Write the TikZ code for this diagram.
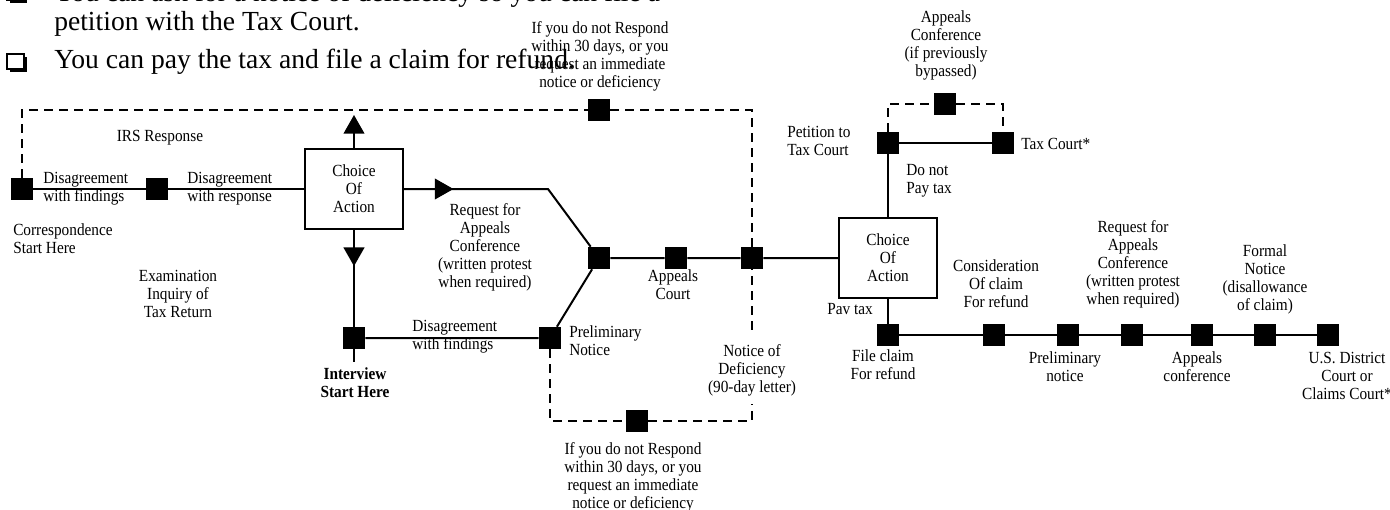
\documentclass[tikz,border=0pt]{standalone}
\usepackage{fontspec}
\setmainfont{Liberation Serif}
\newfontfamily\lblfont[FakeStretch=0.9]{Liberation Serif}
\usetikzlibrary{%
  arrows.meta,%
  decorations.markings%
}
\tikzset{>={Triangle[length=14pt,width=15.5pt]},
  sq/.style={fill=black,minimum size=16.5pt,inner sep=0pt},
  lbl/.style={font={\lblfont\fontsize{12.75}{13.5}\selectfont},inner sep=0pt,align=center},
  lblL/.style={lbl,align=left,anchor=west},
  choice/.style={lbl,draw,line width=1.7pt,minimum width=73.5pt,minimum height=60pt},
  bigtxt/.style={font={\fontsize{20.7}{23.25}\selectfont},inner sep=0pt,anchor=base west},
  flow/.style={line width=1.5pt},
  dashline/.style={line width=1.5pt,dash pattern=on 6.75pt off 4.5pt},
  midarrow/.style={postaction={decorate,decoration={markings,
      mark=at position #1 with {\arrow{>}}}}}}

\begin{document}
\begin{tikzpicture}[x=0.75pt,y=-0.75pt]
  \useasboundingbox (0,0) rectangle (1390,510);
  % bullet list at the top
  \foreach \by in {-15,54}{
    \fill (10,\by+3) rectangle (27,\by+18);
    \filldraw[fill=white,draw=black,line width=0.8pt] (7,\by) rectangle (24,\by+15);
  }
  \node[bigtxt] (ask) at (54,2) {You can ask for a notice of deficiency so you can file a};
  \node[bigtxt] (pet2) at (54,31) {petition with the Tax Court.};
  \node[bigtxt] (pay) at (54,69) {You can pay the tax and file a claim for refund.};

  % boxes and squares
  \node[choice] (ch1) at (354,189) {Choice\\Of\\Action};
  \node[choice] (ch2) at (888,258) {Choice\\Of\\Action};
  \node[sq] (cor) at (22,189) {};
  \node[sq] (dis1) at (157,189) {};
  \node[sq] (int) at (354,338) {};
  \node[sq] (pre) at (550,338) {};
  \node[sq] (apl) at (599,258) {};
  \node[sq] (acrt) at (676,258) {};
  \node[sq] (nod) at (752,258) {};
  \node[sq] (dsqT) at (599,110) {};
  \node[sq] (dsqB) at (637,421) {};
  \node[sq] (pet) at (888,143) {};
  \node[sq] (txc) at (1003,143) {};
  \node[sq] (dsqA) at (945,104) {};
  \node[sq] (fcl) at (888,335) {};
  \node[sq] (r1) at (994,335) {};
  \node[sq] (r2) at (1068,335) {};
  \node[sq] (r3) at (1132,335) {};
  \node[sq] (r4) at (1202,335) {};
  \node[sq] (r5) at (1265,335) {};
  \node[sq] (r6) at (1328,335) {};
  \coordinate (upT) at (354,115);
  \coordinate (bend) at (548,189);
  \coordinate (intTail) at (354,362);

  % dashed routes
  \draw[dashline] (cor) |- (dsqT.west);
  \draw[dashline] (dsqT.east) -| (nod.north);
  \draw[dashline] (pre) |- (dsqB.west);
  \draw[dashline] (dsqB.east) -| (nod.south);
  \draw[dashline] (pet) |- (dsqA.west);
  \draw[dashline] (dsqA.east) -| (txc);

  % solid routes
  \draw[flow] (cor) -- (dis1) -- (ch1);
  \draw[flow,->] (ch1) -- (upT);
  \draw[flow,midarrow=27pt] (ch1) -- (int);
  \draw[flow] (int) -- (intTail);
  \draw[flow,midarrow=37pt] (ch1) -- (bend) -- (apl);
  \draw[flow] (int) -- (pre) -- (apl) -- (acrt) -- (nod) -- (ch2);
  \draw[flow] (ch2) -- (pet) -- (txc);
  \draw[flow] (ch2) -- (fcl) -- (r1) -- (r2) -- (r3) -- (r4) -- (r5) -- (r6);

  % labels
  \node[lbl] (irs) at (160,138) {IRS Response};
  \node[lblL] (dwf1) at (43,189) {Disagreement\\with findings};
  \node[lblL] (dwr) at (187,189) {Disagreement\\with response};
  \node[lblL] (corT) at (13,239) {Correspondence\\Start Here};
  \node[lbl] (exam) at (178,294) {Examination\\Inquiry of\\Tax Return};
  \node[lbl,font={\lblfont\bfseries\fontsize{12.75}{13.5}\selectfont}] (intT) at (355,383) {Interview\\Start Here};
  \node[lblL] (dwf2) at (412,337) {Disagreement\\with findings};
  \node[lbl] (rqa1) at (485,247) {Request for\\Appeals\\Conference\\(written protest\\when required)};
  \node[lblL] (preT) at (569,341) {Preliminary\\Notice};
  \node[lbl] (acrtT) at (673,285) {Appeals\\Court};
  \node[lbl,fill=white,inner ysep=6pt,inner xsep=2pt] (nodT) at (752,370) {Notice of\\Deficiency\\(90-day letter)};
  \node[lbl] (ifB) at (633,477) {If you do not Respond\\within 30 days, or you\\request an immediate\\notice or deficiency};
  \node[lbl] (ifT) at (600,56) {If you do not Respond\\within 30 days, or you\\request an immediate\\notice or deficiency};
  \node[lblL] (petT) at (787,141) {Petition to\\Tax Court};
  \node[lbl] (aconT) at (946,45) {Appeals\\Conference\\(if previously\\bypassed)};
  \node[lblL] (txcT) at (1021,144) {Tax Court*};
  \node[lblL] (dnp) at (906,181) {Do not\\Pay tax};
  \node[lblL] (pavT) at (827,309) {Pav tax};
  \node[lbl] (fclT) at (883,365) {File claim\\For refund};
  \node[lbl] (r1T) at (996,284) {Consideration\\Of claim\\For refund};
  \node[lbl] (r2T) at (1065,367) {Preliminary\\notice};
  \node[lbl] (r3T) at (1133,264) {Request for\\Appeals\\Conference\\(written protest\\when required)};
  \node[lbl] (r4T) at (1197,367) {Appeals\\conference};
  \node[lbl] (r5T) at (1265,279) {Formal\\Notice\\(disallowance\\of claim)};
  \node[lbl] (r6T) at (1347,376) {U.S. District\\Court or\\Claims Court*};
\end{tikzpicture}
\end{document}
